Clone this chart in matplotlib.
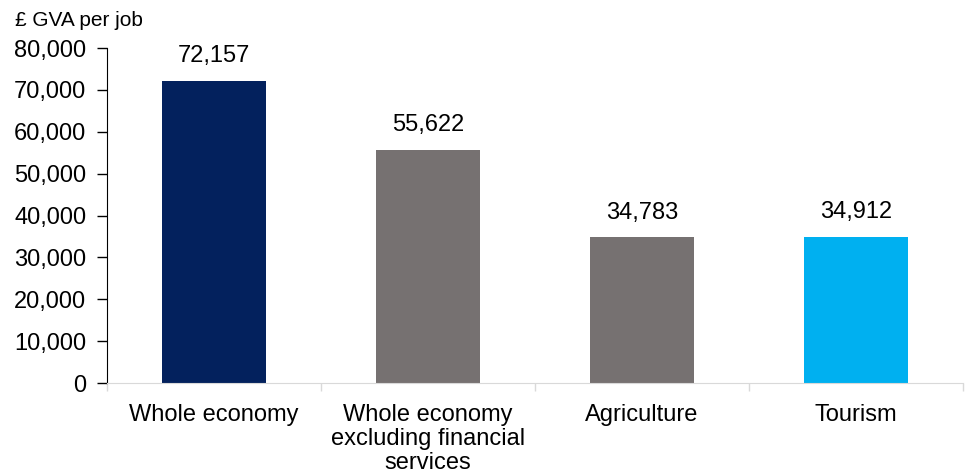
import matplotlib
matplotlib.use("Agg")
import matplotlib.pyplot as plt
from matplotlib.ticker import FuncFormatter, FixedLocator

categories = ["Whole economy", "Whole economy\nexcluding financial\nservices", "Agriculture", "Tourism"]
values = [72157, 55622, 34783, 34912]
labels = ["72,157", "55,622", "34,783", "34,912"]
colors = ["#03215D", "#767171", "#767171", "#00B0F0"]
yticks = [0, 10000, 20000, 30000, 40000, 50000, 60000, 70000, 80000]

plt.rcParams['font.family'] = ['Liberation Sans', 'DejaVu Sans']

fig = plt.figure(figsize=(9.67, 4.76), dpi=100)
ax = fig.add_axes([107/967, 1-383/476, (963-107)/967, (383-48)/476])

x = list(range(len(categories)))
ax.bar(x, values, width=0.49, color=colors)
for xi, v, lab in zip(x, values, labels):
    ax.text(xi, v + 3300, lab, ha='center', va='bottom', fontsize=17)

ax.set_xlim(-0.5, len(categories) - 0.5)
ax.set_ylim(0, 80000)
ax.set_yticks(yticks)
ax.yaxis.set_major_formatter(FuncFormatter(lambda v, p: f"{int(v):,}"))
ax.tick_params(axis='y', labelsize=17, length=7, width=1, direction='out', pad=8, color='black')

ax.set_xticks(x)
ax.set_xticklabels(categories, fontsize=17, linespacing=1.13)
ax.tick_params(axis='x', length=0, pad=15)
ax.xaxis.set_minor_locator(FixedLocator([-0.5, 0.5, 1.5, 2.5, 3.5]))
ax.tick_params(axis='x', which='minor', length=6, color='#D9D9D9', width=1)

for s in ['top', 'right']:
    ax.spines[s].set_visible(False)
ax.spines['left'].set_color('black')
ax.spines['bottom'].set_color('#D9D9D9')

fig.text(15/967, 1-20/476, "£ GVA per job", fontsize=15, va='center', ha='left')

fig.savefig("out.png", dpi=100)
